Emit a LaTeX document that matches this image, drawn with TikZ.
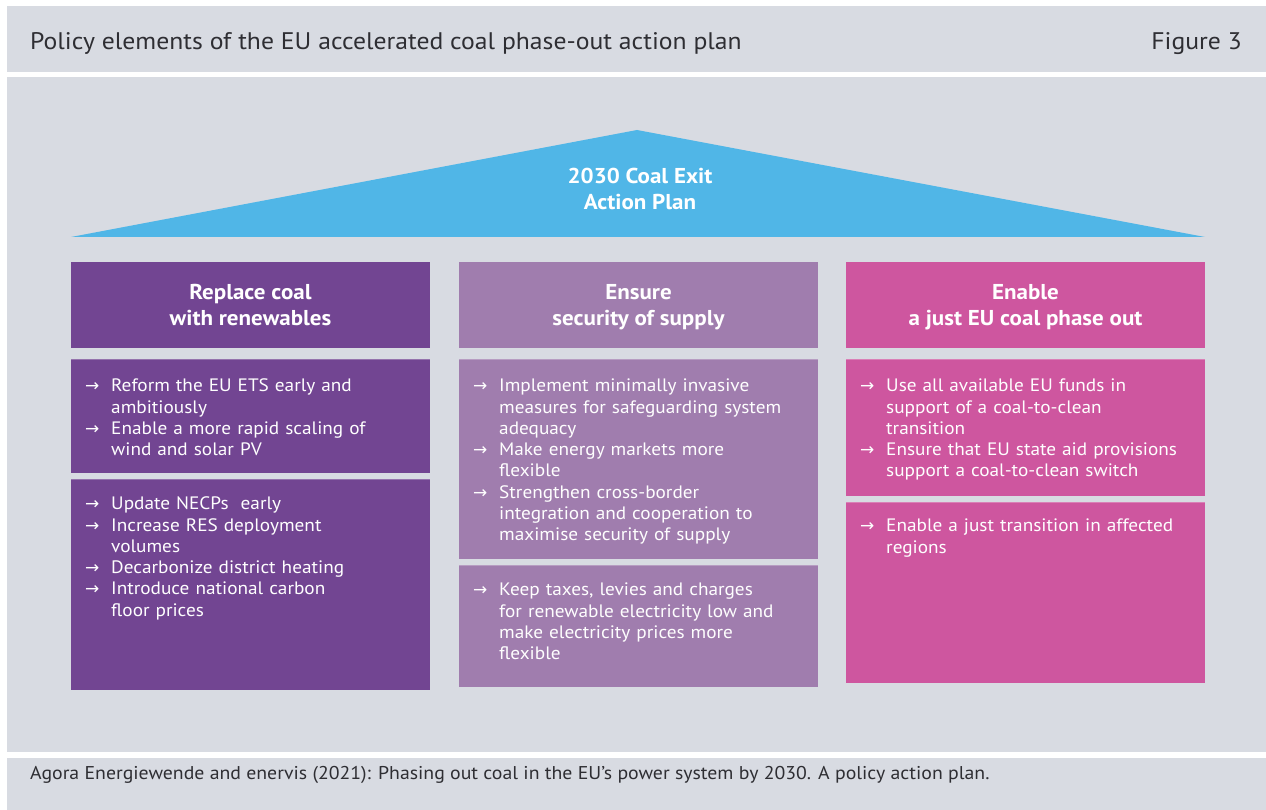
\documentclass[tikz,border=0pt]{standalone}
\usepackage{fontspec}
\setmainfont{PT Sans}[FakeStretch=1.07]
\newfontfamily\arrowfont{DejaVu Sans}
\definecolor{panel}{HTML}{D8DBE2}
\definecolor{skyblue}{HTML}{50B6E7}
\definecolor{darkpurple}{HTML}{724592}
\definecolor{lightpurple}{HTML}{A07DAE}
\definecolor{pinkish}{HTML}{CE569F}
\definecolor{titletext}{HTML}{2E2E33}
\newcommand{\nl}{\hfil\break}
\newcommand{\topstrut}{\rule{0pt}{20pt}}
\newcommand{\botstrut}{\rule[-5.5pt]{0pt}{5.5pt}}
\newcommand{\bul}[1]{\noindent\hangindent=26pt\hangafter=1\makebox[26pt][l]{\rule{0pt}{14pt}\raisebox{0pt}{\arrowfont\fontsize{17}{17}\selectfont →}}#1\par}
\tikzset{
  panelbox/.style={fill=panel, draw=none},
  colbox/.style={draw=none, inner sep=0pt, text=white, align=center,
    font=\bfseries\fontsize{21.5}{26}\selectfont},
  bodytext/.style={anchor=north west, inner sep=0pt, text width=330pt, align=left,
    text=white!92!black!4, font=\fontsize{18}{21.3}\selectfont},
  plaintext/.style={inner sep=0pt, text=titletext}
}
\begin{document}
\begin{tikzpicture}[x=1pt,y=-1pt]
\useasboundingbox (0,0) rectangle (1266,810);
\fill[white] (0,0) rectangle (1266,810);
% panels
\node[panelbox, anchor=north west, minimum width=1259pt, minimum height=66pt, inner sep=0pt] (header) at (7,6) {};
\node[panelbox, anchor=north west, minimum width=1259pt, minimum height=675pt, inner sep=0pt] (main) at (7,77) {};
\node[panelbox, anchor=north west, minimum width=1259pt, minimum height=52pt, inner sep=0pt] (footer) at (7,758) {};
\node[plaintext, anchor=base west, font=\fontsize{24}{28}\selectfont] (title) at (30,50) {Policy elements of the EU accelerated coal phase-out action plan};
\node[plaintext, anchor=base east, font=\fontsize{24}{28}\selectfont] (fig) at (1242,50) {Figure 3};
\node[plaintext, anchor=base west, font=\fontsize{18.5}{22}\selectfont] (source) at (30,779) {Agora Energiewende and enervis (2021): Phasing out coal in the EU’s power system by 2030. A policy action plan.};
% roof
\coordinate (apex) at (637,130);
\coordinate (bl) at (71,237);
\coordinate (br) at (1205,237);
\fill[skyblue] (bl) -- (apex) -- (br) -- cycle;
\node[colbox] (roof) at (640,189) {2030 Coal Exit\\Action Plan};
% column headings
\node[colbox, fill=darkpurple, minimum width=359pt, minimum height=86pt] (h1) at (250.5,305) {\topstrut Replace coal\\with renewables\botstrut};
\node[colbox, fill=lightpurple, minimum width=359pt, minimum height=86pt] (h2) at (638.5,305) {\topstrut Ensure\\security of supply\botstrut};
\node[colbox, fill=pinkish, minimum width=359pt, minimum height=86pt] (h3) at (1025.5,305) {\topstrut Enable\\a just EU coal phase out\botstrut};
% content boxes
\fill[darkpurple] (71,359) rectangle (430,473.3);
\fill[darkpurple] (71,479) rectangle (430,690);
\fill[lightpurple] (459,359) rectangle (818,559.3);
\fill[lightpurple] (459,565) rectangle (818,686.7);
\fill[pinkish] (846,359) rectangle (1205,496);
\fill[pinkish] (846,501.7) rectangle (1205,682.7);
\foreach \xa/\xb/\ya in {71/430/359,71/430/479,459/818/359,459/818/565,846/1205/359,846/1205/501.7}
  \draw[white, opacity=0.25, line width=1.2pt] (\xa,\ya+0.6) -- (\xb,\ya+0.6);
% body texts
\node[bodytext] (t1a) at (85,377.5) {%
\bul{Reform the EU ETS early and\nl ambitiously}
\bul{Enable a more rapid scaling of\nl wind and solar PV}};
\node[bodytext] (t1b) at (85,495.5) {%
\bul{Update NECPs\ \ early}
\bul{Increase RES deployment\nl volumes}
\bul{Decarbonize district heating}
\bul{Introduce national carbon\nl floor prices}};
\node[bodytext] (t2a) at (473,377.5) {%
\bul{Implement minimally invasive\nl measures for safeguarding system\nl adequacy}
\bul{Make energy markets more\nl flexible}
\bul{Strengthen cross-border\nl integration and cooperation to\nl maximise security of supply}};
\node[bodytext] (t2b) at (473,581.7) {%
\bul{Keep taxes, levies and charges\nl for renewable electricity low and\nl make electricity prices more\nl flexible}};
\node[bodytext] (t3a) at (860,377.5) {%
\bul{Use all available EU funds in\nl support of a coal-to-clean\nl transition}
\bul{Ensure that EU state aid provisions\nl support a coal-to-clean switch}};
\node[bodytext] (t3b) at (860,517.7) {%
\bul{Enable a just transition in affected\nl regions}};
\end{tikzpicture}
\end{document}
